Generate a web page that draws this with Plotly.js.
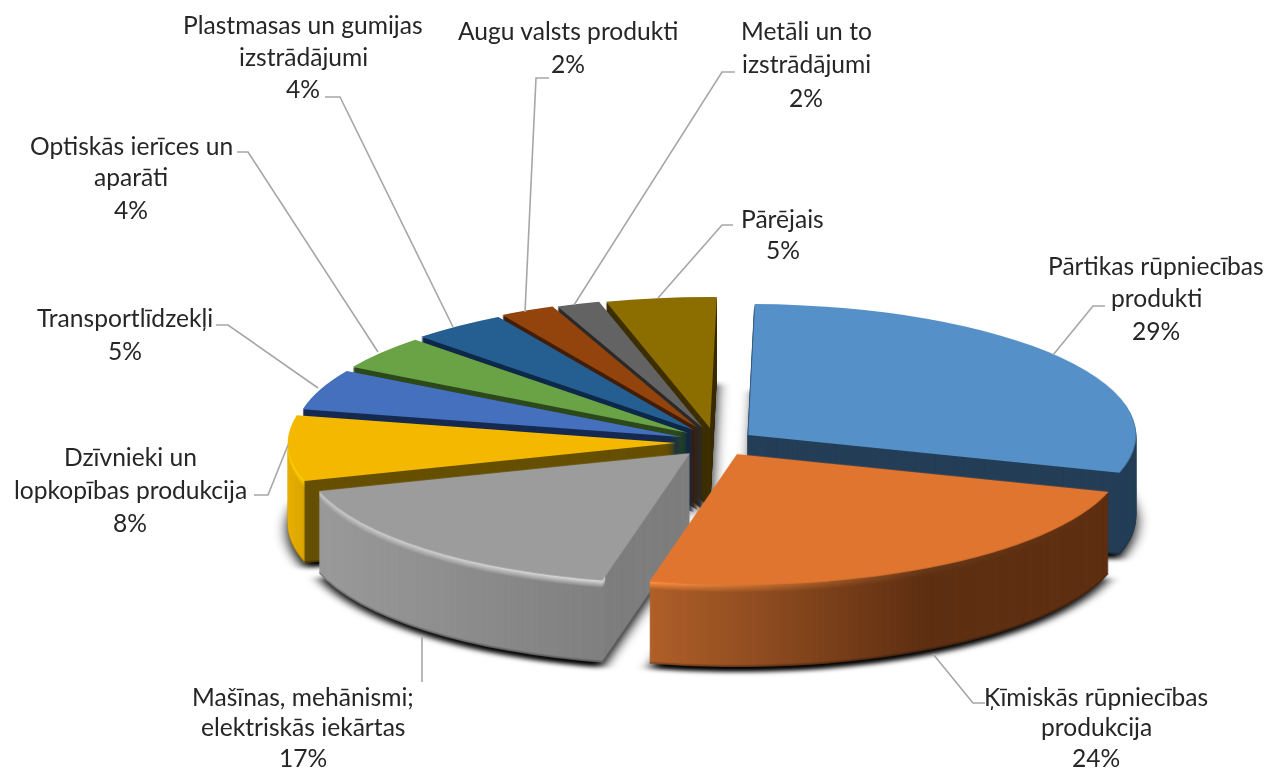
<!DOCTYPE html>
<html><head><meta charset="utf-8">
<script src="https://cdn.plot.ly/plotly-3.0.1.min.js"></script>
<style>html,body{margin:0;padding:0;background:#fff}#c{width:1267px;height:773px}</style>
</head><body><div id="c"></div>
<script>
// ---- data
const categories = [
  "Pārtikas rūpniecības<br>produkti",
  "Ķīmiskās rūpniecības<br>produkcija",
  "Mašīnas, mehānismi;<br>elektriskās iekārtas",
  "Dzīvnieki un<br>lopkopības produkcija",
  "Transportlīdzekļi",
  "Optiskās ierīces un<br>aparāti",
  "Plastmasas un gumijas<br>izstrādājumi",
  "Augu valsts produkti",
  "Metāli un to<br>izstrādājumi",
  "Pārējais"
];
const values = [29.4, 24, 16.7, 8.1, 5, 4.2, 4, 2.3, 1.8, 4.6];

// ---- styles
const topColors  = ["#5591c8","#e0752f","#9c9c9c","#f4b800","#4470bd","#69a345","#255e91","#93430c","#636363","#8c6d00"];
const wallColors = ["#253f58","#5f3013","#7f7f7f","#665000","#172b52","#2e4a1d","#0f2a4a","#43200a","#2c2c2c","#3f3100"];
const wallStops = {
  1:[[0,"#b0602a"],[0.6,"#5f3013"],[1,"#5f3013"]],
  2:[[0,"#9a9a9a"],[0.77,"#808080"],[0.771,"#7f7f7f"],[1,"#7f7f7f"]],
  3:[[0,"#e8b000"],[0.04,"#dca600"],[0.045,"#665000"],[1,"#665000"]]
};
const rimStops = {
  1:[[0,"#ff9040"],[0.6,"#6a3a18"],[1,"#5f3013"]],
  2:[[0,"#c8c8c8"],[0.77,"#dadada"],[0.771,"#7f7f7f"],[1,"#7f7f7f"]],
  3:[[0,"#ffd000"],[0.04,"#ffd000"],[0.045,"#665000"],[1,"#665000"]]
};
// layout of the projected pie, in page pixels
const centre = {x:700, y:436}, radiusX = 388, radiusY = 131, depth = 82, rimBands = 7;
const sliceShift = [[48,-1],[37,18],[-10,17],[-24,7],[-18,1],[-12,-3],[-6,-6],[-2,-8],[3,-8],[10,-8]];
const labelPlace = [[1156,265,32.5],[1096,696,30.5],[303,696,30.5],[130,456,33],[125,318,32],[131,145,32],[303,25,32],[568,31,33],[806,31,33],[783,218,32]];
const leaders = [
  [[1053,355],[1093,306],[1105,306]],
  [[933,654],[973,703],[985,703]],
  [[422,637],[422,682]],
  [[288,445],[268,495],[254,495]],
  [[318,388],[228,325],[216,325]],
  [[378,352],[248,152],[237,152]],
  [[453,327],[340,97],[325,97]],
  [[525,312],[536,78],[549,78]],
  [[574,305],[722,72],[735,72]],
  [[658,298],[722,225],[733,225]]
];

const W = 1267, H = 773;
const px = x => x / W, py = y => 1 - y / H;

function pieTrace(colors){
  return {type:"pie", values, labels:categories, sort:false, direction:"clockwise", rotation:1,
    textinfo:"none", hoverinfo:"skip", showlegend:false,
    marker:{colors, line:{width:0}}, domain:{x:[0,1],y:[0,1]}};
}
const traces = [pieTrace(values.map(()=>"#000"))];
for (let d = depth; d >= 1; d--) traces.push(pieTrace(wallColors));
traces.push(pieTrace(topColors));

const annotations = [];
categories.forEach((c,i)=>{
  const lines = c.split("<br>").concat([Math.round(values[i])+"%"]);
  const [x,y0,step] = labelPlace[i];
  lines.forEach((t,k)=>annotations.push({xref:"paper",yref:"paper",x:px(x),y:py(y0+k*step),
    text:t,showarrow:false,xanchor:"center",yanchor:"middle",
    font:{family:"Lato, Carlito, sans-serif",size:24.6,color:"#262626"}}));
});
const shapes = leaders.map(l=>({type:"path",xref:"paper",yref:"paper",layer:"above",
  path:"M"+l.map(p=>px(p[0])+","+py(p[1])).join("L"),line:{color:"#a6a6a6",width:1.6}}));

const layout = {width:W,height:H,margin:{l:0,r:0,t:0,b:0},paper_bgcolor:"#fff",showlegend:false,annotations,shapes};

function hex(c){return [1,3,5].map(i=>parseInt(c.substr(i,2),16));}
function mix(a,b,t){const A=hex(a),B=hex(b);return "rgb("+A.map((v,i)=>Math.round(v+(B[i]-v)*t)).join(",")+")";}

const gd = document.getElementById("c");
Plotly.newPlot(gd,traces,layout,{staticPlot:true,displayModeBar:false}).then(()=>{
  const svg = gd.querySelector(".main-svg");
  const NS = "http://www.w3.org/2000/svg";
  const defs = document.createElementNS(NS,"defs");
  svg.insertBefore(defs,svg.firstChild);
  function grad(id,stops){
    const g = document.createElementNS(NS,"linearGradient");
    g.setAttribute("id",id);
    stops.forEach(s=>{const e=document.createElementNS(NS,"stop");
      e.setAttribute("offset",s[0]);e.setAttribute("stop-color",s[1]);g.appendChild(e);});
    defs.appendChild(g);
    return "url(#"+id+")";
  }
  const blur = document.createElementNS(NS,"filter");
  blur.setAttribute("id","soft");
  ["x","y"].forEach(k=>blur.setAttribute(k,"-10%"));
  ["width","height"].forEach(k=>blur.setAttribute(k,"120%"));
  const fe = document.createElementNS(NS,"feGaussianBlur");
  fe.setAttribute("stdDeviation","7");
  blur.appendChild(fe);defs.appendChild(blur);

  const groups = gd.querySelectorAll(".pielayer .trace");
  const cd = gd.calcdata[0][0];
  const sx = radiusX/cd.r, sy = radiusY/cd.r;
  groups.forEach((g,n)=>{
    // n=0 shadow, n=1..depth walls (deep first), n=depth+1 top face
    const dy = n===0 ? depth+5 : depth+1-n;
    g.setAttribute("transform",`translate(${centre.x},${centre.y+dy}) scale(${sx},${sy}) translate(${-cd.cx},${-cd.cy})`);
    if(n===0){g.setAttribute("filter","url(#soft)");g.setAttribute("opacity","0.18");}
    g.querySelectorAll(".slice").forEach((s,i)=>{
      s.setAttribute("transform",`translate(${sliceShift[i][0]/sx},${sliceShift[i][1]/sy})`);
      const p = s.querySelector("path");
      if(n>0 && dy>0){
        const rimT = dy<=rimBands ? 1-(dy-1)/rimBands : 0;
        const edge = dy>=depth-1 ? 0.2 : 0;
        if(wallStops[i]){
          const st = wallStops[i].map((w,k)=>{
            let col;
            if(rimT>0){
              const off=w[0];
              const r=rimStops[i];
              let rc=r[r.length-1][1];
              for(let a=0;a<r.length-1;a++){ if(off>=r[a][0]&&off<=r[a+1][0]){
                const t=(off-r[a][0])/(r[a+1][0]-r[a][0]||1);
                rc=mix(r[a][1],r[a+1][1],t); rc="#"+rc.match(/\d+/g).map(v=>(+v).toString(16).padStart(2,"0")).join(""); break;}}
              col=mix(w[1],rc,rimT);
            } else if(edge>0){ col=mix(w[1],"#000000",edge);} else col=w[1];
            return [w[0],col];
          });
          p.style.fill = grad(`w${i}_${dy}`,st);
        } else if(edge>0){ p.style.fill = mix(wallColors[i],"#000000",edge); }
      }
    });
  });
});
</script></body></html>
